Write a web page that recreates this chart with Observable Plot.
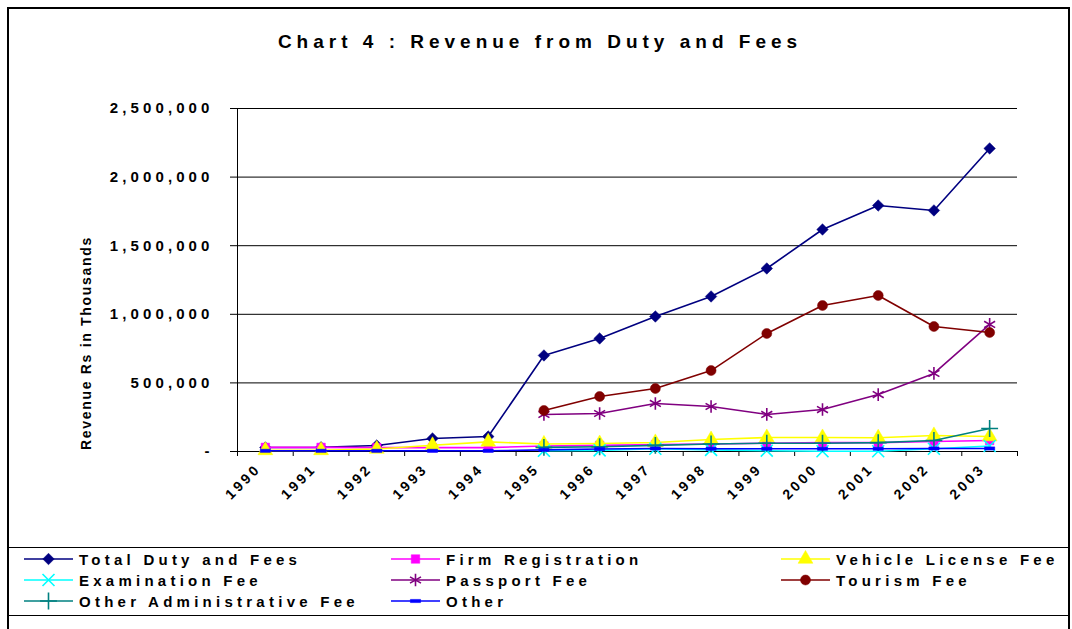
<!DOCTYPE html>
<html>
<head>
<meta charset="utf-8">
<script src="https://cdn.jsdelivr.net/npm/d3@7"></script>
<script src="https://cdn.jsdelivr.net/npm/@observablehq/plot@0.6"></script>
<style>
  body { margin: 0; background: #fff; font-family: "Liberation Sans", Arial, sans-serif; }
  #root { position: relative; width: 1072px; height: 629px; overflow: hidden; background: #fff; }
  #chart { position: absolute; left: 0; top: 0; }
  #frame { position: absolute; left: 7px; top: 7px; width: 1063px; height: 700px; border: 2px solid #000; box-sizing: border-box; pointer-events: none; }
  #title { position: absolute; left: 0; top: 30px; width: 1080px; text-align: center; font-size: 19px; font-weight: bold; letter-spacing: 5px; line-height: 24px; color: #000; }
  #legendBox { position: absolute; left: 7px; top: 547px; width: 1063px; height: 69px; border-top: 1px solid #000; border-bottom: 1px solid #000; box-sizing: border-box; }
  .item { position: absolute; height: 20px; display: flex; align-items: center; }
  .item span { font-size: 15px; font-weight: bold; letter-spacing: 4.25px; white-space: nowrap; margin-left: 6px; color: #000; }
</style>
</head>
<body>
<div id="root">
  <div id="chart"></div>
  <div id="title">Chart 4 : Revenue from Duty and Fees</div>
  <div id="legendBox"></div>
  <div id="legend"></div>
  <div id="frame"></div>
</div>
<script>
const years = [1990, 1991, 1992, 1993, 1994, 1995, 1996, 1997, 1998, 1999, 2000, 2001, 2002, 2003];
const yTicks = [0, 500000, 1000000, 1500000, 2000000, 2500000];

const totalDuty   = [29000, 30000, 44000, 95000, 109000, 700000, 824000, 984000, 1130000, 1334000, 1618000, 1793000, 1757000, 2209000];
const firmReg     = [30000, 30000, 28000, 28000, 28000, 40000, 45000, 50000, 55000, 60000, 65000, 65000, 73000, 80000];
const vehicleFee  = [8000, 8000, 18000, 45000, 70000, 55000, 58000, 66000, 87000, 102000, 102000, 100000, 117000, 109000];
const examFee     = [null, null, null, null, null, 5000, 8000, 20000, 12000, 6000, 2000, 2000, 20000, 40000];
const passportFee = [null, null, null, null, null, 270000, 277000, 350000, 328000, 270000, 306000, 415000, 569000, 926000];
const tourismFee  = [null, null, null, null, null, 299000, 401000, 459000, 590000, 860000, 1064000, 1137000, 911000, 867000];
const otherAdmin  = [null, null, null, null, null, 30000, 35000, 45000, 55000, 60000, 60000, 65000, 80000, 168000];
const otherFee    = [5000, 5000, 5000, 5000, 5000, 12000, 18000, 22000, 20000, 20000, 20000, 20000, 22000, 22000];

const dash = { draw(ctx, size) { const w = Math.sqrt(size) * 0.72; ctx.rect(-w, -1.6, 2 * w, 3.2); } };

const series = [
  { name: "Total Duty and Fees", values: totalDuty, color: "#000080", symbol: "diamond2", filled: true, r: 5.2 },
  { name: "Firm Registration", values: firmReg, color: "#FF00FF", symbol: "square", filled: true, r: 4.8 },
  { name: "Vehicle License Fee", values: vehicleFee, color: "#FFFF00", symbol: "triangle", filled: true, r: 5.5 },
  { name: "Examination Fee", values: examFee, color: "#00FFFF", symbol: "times", filled: false, r: 5.5 },
  { name: "Passport Fee", values: passportFee, color: "#800080", symbol: "asterisk", filled: false, r: 6 },
  { name: "Tourism Fee", values: tourismFee, color: "#800000", symbol: "circle", filled: true, r: 5 },
  { name: "Other Administrative Fee", values: otherAdmin, color: "#008080", symbol: "plus", filled: false, r: 5.5 },
  { name: "Other", values: otherFee, color: "#0000FF", symbol: dash, filled: true, r: 4 }
];

const boundaries = years.map(y => y - 0.5).concat([years[years.length - 1] + 0.5]);

const marks = [
  Plot.ruleY(yTicks, { stroke: "#000", strokeWidth: 1 }),
  Plot.ruleX([boundaries[0]], { stroke: "#000", strokeWidth: 1 }),
  Plot.axisY(yTicks, {
    tickSize: 7, tickPadding: 17, stroke: "#000",
    tickFormat: d => d === 0 ? "-" : d3.format(",")(d),
    fontSize: 15, fontWeight: "bold", fill: "#000", label: null
  }),
  Plot.axisX(boundaries, { tickSize: 5, tickFormat: () => "", stroke: "#000", label: null }),
  Plot.axisX(years, {
    tickSize: 0, tickPadding: 15, tickRotate: -45, dx: -7,
    tickFormat: d => String(d), fontSize: 14, fontWeight: "bold", fill: "#000", label: null
  }),
  Plot.text(["Revenue Rs in Thousands"], {
    text: d => d, frameAnchor: "left", textAnchor: "middle", rotate: -90, dx: -151, dy: 63,
    fontSize: 14, fontWeight: "bold", fill: "#000"
  })
];

for (const s of series) {
  const rows = years.map((yr, i) => ({ year: yr, value: s.values[i] })).filter(d => d.value != null);
  marks.push(Plot.line(rows, { x: "year", y: "value", stroke: s.color, strokeWidth: 1.6 }));
  marks.push(Plot.dot(rows, {
    x: "year", y: "value", symbol: s.symbol, r: s.r,
    fill: s.filled ? s.color : "none",
    stroke: s.color,
    strokeWidth: s.filled ? 0.5 : 1.6
  }));
}

const chart = Plot.plot({
  width: 1072, height: 547,
  marginLeft: 237, marginRight: 55, marginTop: 108, marginBottom: 96,
  style: { fontFamily: "'Liberation Sans', Arial, sans-serif", background: "transparent", overflow: "visible" },
  x: { type: "linear", domain: [boundaries[0], boundaries[boundaries.length - 1]] },
  y: { type: "linear", domain: [0, 2500000] },
  marks
});
document.getElementById("chart").appendChild(chart);

d3.select(chart).selectAll('g[aria-label="y-axis tick label"] text').style("letter-spacing", "4.1px");
d3.select(chart).selectAll('g[aria-label="x-axis tick label"] text').style("letter-spacing", "3px");
d3.select(chart).selectAll('g[aria-label="text"] text').style("letter-spacing", "1.7px");

// Legend
const legendPos = [
  [24, 549], [391, 549], [781, 549],
  [24, 570], [391, 570], [781, 570],
  [24, 591], [391, 591]
];
const symMap = { diamond2: d3.symbolDiamond2, square: d3.symbolSquare, triangle: d3.symbolTriangle, times: d3.symbolTimes, asterisk: d3.symbolAsterisk, circle: d3.symbolCircle, plus: d3.symbolPlus };
const legend = d3.select("#legend");
series.forEach((s, i) => {
  const [lx, ly] = legendPos[i];
  const item = legend.append("div").attr("class", "item").style("left", lx + "px").style("top", ly + "px");
  const svg = item.append("svg").attr("width", 49).attr("height", 20);
  svg.append("line").attr("x1", 0).attr("x2", 49).attr("y1", 10).attr("y2", 10)
    .attr("stroke", s.color).attr("stroke-width", 1.6);
  const type = typeof s.symbol === "string" ? symMap[s.symbol] : s.symbol;
  svg.append("path").attr("transform", "translate(24.5,10)")
    .attr("d", d3.symbol(type, Math.PI * s.r * s.r)())
    .attr("fill", s.filled ? s.color : "none")
    .attr("stroke", s.color).attr("stroke-width", s.filled ? 0.5 : 1.6);
  item.append("span").text(s.name);
});
</script>
</body>
</html>
